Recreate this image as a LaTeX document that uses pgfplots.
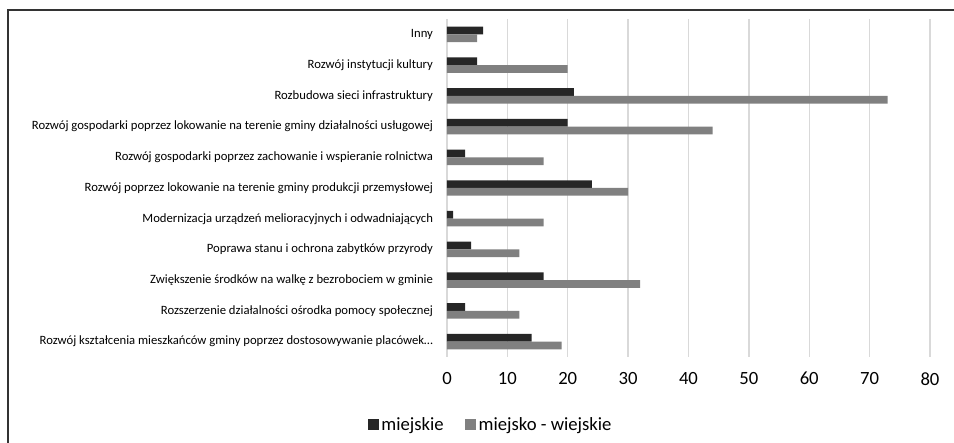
\documentclass[border=0pt]{standalone}
\usepackage{fontspec}
\setmainfont{Carlito}
\usepackage{pgfplots}
\pgfplotsset{compat=1.18}
\definecolor{miej}{HTML}{262626}
\definecolor{miejwiej}{HTML}{808080}
\definecolor{siatka}{HTML}{D9D9D9}
\begin{document}
\begin{tikzpicture}[x=0.75pt,y=0.75pt]
\path[use as bounding box] (0,0) rectangle (954,443);
\draw[color=black!80, line width=1pt] (8,0) -- (8,433) -- (954,433);
\begin{axis}[
    at={(335.25pt,64.5pt)}, anchor=south west,
    scale only axis, width=362.25pt, height=253.5pt,
    xbar, bar width=5.8pt,
    xmin=0, xmax=80, xtick={0,10,...,80},
    ymin=-0.5, ymax=10.5, ytick={0,...,10},
    yticklabels={Rozwój kształcenia mieszkańców gminy poprzez dostosowywanie placówek…,
        Rozszerzenie działalności ośrodka pomocy społecznej,
        Zwiększenie środków na walkę z bezrobociem w gminie,
        Poprawa stanu i ochrona zabytków przyrody,
        Modernizacja urządzeń melioracyjnych i odwadniających,
        Rozwój poprzez lokowanie na terenie gminy produkcji przemysłowej,
        Rozwój gospodarki poprzez zachowanie i wspieranie rolnictwa,
        Rozwój gospodarki poprzez lokowanie na terenie gminy działalności usługowej,
        Rozbudowa sieci infrastruktury,
        Rozwój instytucji kultury,
        Inny},
    axis line style={draw=none}, major tick length=0pt,
    xmajorgrids, grid style={color=siatka, line width=1.1pt},
    /pgf/number format/assume math mode=true,
    xticklabel style={font=\fontsize{14}{14}\selectfont, yshift=-8pt},
    yticklabel style={font=\fontsize{9.5}{10}\selectfont, xshift=-7pt},
    legend style={at={(0.091,-0.201)}, anchor=center, draw=none,
        legend columns=2, font=\fontsize{14}{14}\selectfont,
        /tikz/every even column/.append style={column sep=14pt}},
    legend image code/.code={\fill[#1] (0pt,-4.1pt) rectangle (8.25pt,4.1pt);},
]
\addplot[fill=miej, draw=none, bar shift=2.9pt] coordinates {
(14,0) (3,1) (16,2) (4,3) (1,4) (24,5) (3,6) (20,7) (21,8) (5,9) (6,10)
};
\addlegendentry{miejskie}
\addplot[fill=miejwiej, draw=none, bar shift=-2.9pt] coordinates {
(19,0) (12,1) (32,2) (12,3) (16,4) (30,5) (16,6) (44,7) (73,8) (20,9) (5,10)
};
\addlegendentry{miejsko - wiejskie}
\end{axis}
\end{tikzpicture}
\end{document}
